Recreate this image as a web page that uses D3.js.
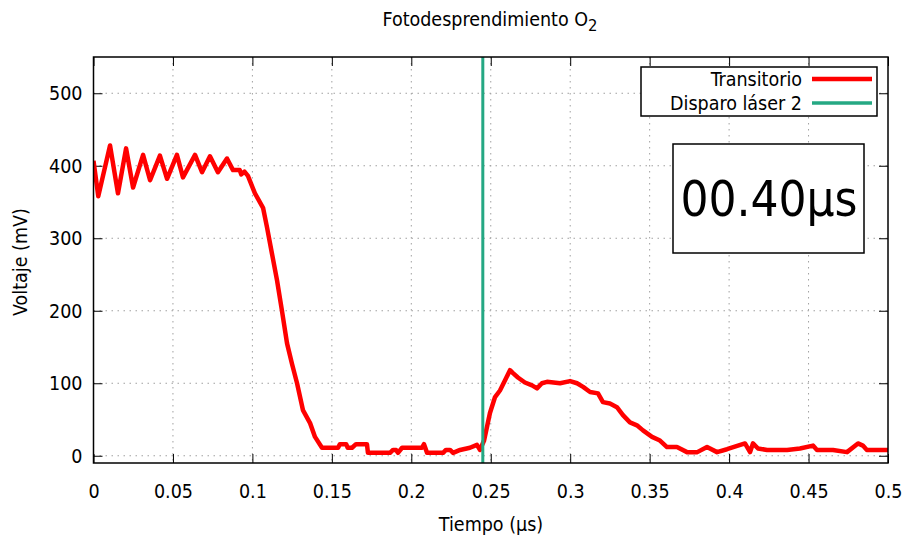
<!DOCTYPE html>
<html><head><meta charset="utf-8">
<script src="https://cdn.jsdelivr.net/npm/d3@7"></script>
<style>
body{margin:0;background:#fff;}
text{font-family:"DejaVu Sans Condensed","DejaVu Sans",sans-serif;font-stretch:condensed;fill:#000;}
</style></head>
<body><svg id="c" width="906" height="536"></svg>
<script>
// Data
const title = "Fotodesprendimiento O";
const titleSub = "2";
const xLabel = "Tiempo (µs)";
const yLabel = "Voltaje (mV)";
const xTicks = [0,0.05,0.1,0.15,0.2,0.25,0.3,0.35,0.4,0.45,0.5];
const xTickLabels = ["0","0.05","0.1","0.15","0.2","0.25","0.3","0.35","0.4","0.45","0.5"];
const yTicks = [0,100,200,300,400,500];
const seriesNames = ["Transitorio","Disparo láser 2"];
const timeLabel = "00.40µs";
const transT = [0,0.003,0.0104,0.0154,0.0205,0.0249,0.0312,0.0356,0.0418,0.0463,0.0525,0.0563,0.0639,0.0683,0.0733,0.0783,0.0840,0.0878,0.0920,0.0930,0.0950,0.0972,
  0.1016,0.1067,0.1092,0.1123,0.1155,0.1186,0.1218,0.1249,0.1281,0.1318,0.1363,0.1394,0.1438,
  0.1539,0.1551,0.1590,0.1600,0.1627,0.1652,0.1721,0.1727,0.1866,0.1885,0.1904,0.1916,0.1942,0.2067,0.2080,0.2099,0.2200,0.2218,0.2244,0.2263,0.2307,0.2369,0.2413,0.2432,
  0.2458,0.2495,0.2527,0.2558,0.2590,0.2621,0.2640,0.2671,0.2715,0.2760,0.2791,0.2822,0.2854,0.2936,0.2999,0.3043,0.3081,0.3125,0.3175,0.3206,0.3250,0.3294,0.3332,0.3376,0.3420,0.3458,0.3515,0.3565,0.3609,
  0.3672,0.3735,0.3800,0.3861,0.3924,0.3987,0.4100,0.4132,0.4150,0.4182,0.4239,0.4365,0.4446,0.4528,0.4553,0.4654,0.4742,0.4811,0.4842,0.4867,0.5];
const transV = [407,358,428,362,424,370,415,380,414,382,415,384,415,391,413,391,410,394,394,388,392,386,
  362,342,315,279,242,200,155,127,100,63,45,26,11,
  11,16,16,11,11,16,16,4,4,8,8,4,11,11,16,4,4,8,8,4,8,11,15,8,
  21,59,81,90,104,118,114,108,101,97,93,100,102,100,103,100,95,88,86,74,72,67,56,46,42,35,26,21,12,
  12,5,5,12,5,9,17,5,17,10,8,8,10,14,8,8,5,17,14,8,8];
const laserT = [0.245,0.245];
const laserV = [-10,550];

const W=906,H=536;
const L=93.5,R=888,T=57,B=463;
const FS=19.5;
const svg=d3.select("#c");
const x=d3.scaleLinear().domain([0,0.5]).range([L,R]);
const y=d3.scaleLinear().domain([-10,550]).range([B,T]);

// grid
const g=svg.append("g");
g.selectAll("line.gx").data(xTicks.slice(1,-1)).join("line")
 .attr("x1",d=>x(d)).attr("x2",d=>x(d)).attr("y1",T).attr("y2",B)
 .attr("stroke","#a0a0a0").attr("stroke-width",1).attr("stroke-dasharray","1.5,4.5");
g.selectAll("line.gy").data(yTicks).join("line")
 .attr("x1",L).attr("x2",R).attr("y1",d=>y(d)).attr("y2",d=>y(d))
 .attr("stroke","#a0a0a0").attr("stroke-width",1).attr("stroke-dasharray","1.5,4.5");

// axes with inward ticks
const tl=9;
svg.append("g").attr("transform",`translate(0,${B})`)
 .call(d3.axisBottom(x).tickValues(xTicks).tickFormat((d,i)=>xTickLabels[i]).tickSizeInner(-tl).tickSizeOuter(0).tickPadding(21))
 .call(a=>{a.select(".domain").remove();a.selectAll("text").attr("font-size",FS).attr("font-family",null);a.selectAll("line").attr("stroke","#000");});
svg.append("g").attr("transform",`translate(0,${T})`)
 .call(d3.axisTop(x).tickValues(xTicks).tickFormat("").tickSizeInner(-tl).tickSizeOuter(0))
 .call(a=>{a.select(".domain").remove();a.selectAll("line").attr("stroke","#000");});
svg.append("g").attr("transform",`translate(${L},0)`)
 .call(d3.axisLeft(y).tickValues(yTicks).tickSizeInner(-tl).tickSizeOuter(0).tickPadding(11))
 .call(a=>{a.select(".domain").remove();a.selectAll("text").attr("font-size",FS).attr("font-family",null);a.selectAll("line").attr("stroke","#000");});
svg.append("g").attr("transform",`translate(${R},0)`)
 .call(d3.axisRight(y).tickValues(yTicks).tickFormat("").tickSizeInner(-tl).tickSizeOuter(0))
 .call(a=>{a.select(".domain").remove();a.selectAll("line").attr("stroke","#000");});

// clip
svg.append("clipPath").attr("id","cp").append("rect").attr("x",L).attr("y",T).attr("width",R-L).attr("height",B-T);

const line=d3.line().x(d=>x(d[0])).y(d=>y(d[1]));
const transData=transT.map((t,i)=>[t,transV[i]]);
const laserData=laserT.map((t,i)=>[t,laserV[i]]);
const plot=svg.append("g").attr("clip-path","url(#cp)");
plot.append("path").datum(transData).attr("d",line).attr("fill","none").attr("stroke","#ff0000").attr("stroke-width",4.5).attr("stroke-linejoin","round");
plot.append("path").datum(laserData).attr("d",line).attr("fill","none").attr("stroke","#25a883").attr("stroke-width",3);

// frame
svg.append("rect").attr("x",L).attr("y",T).attr("width",R-L).attr("height",B-T).attr("fill","none").attr("stroke","#000").attr("stroke-width",1.5);

// legend
const lg=svg.append("g");
lg.append("rect").attr("x",641).attr("y",67).attr("width",236).attr("height",49).attr("fill","#fff").attr("stroke","#000").attr("stroke-width",1.5);
const colors=["#ff0000","#25a883"];
seriesNames.forEach((n,i)=>{
  const yy=79+i*24;
  lg.append("text").attr("x",802).attr("y",yy+7).attr("text-anchor","end").attr("font-size",FS).text(n);
  lg.append("line").attr("x1",812).attr("x2",872).attr("y1",yy).attr("y2",yy).attr("stroke",colors[i]).attr("stroke-width",i==0?4.5:3.5);
});

// time box
svg.append("rect").attr("x",673).attr("y",144).attr("width",191).attr("height",109).attr("fill","#fff").attr("stroke","#000").attr("stroke-width",1.5);
svg.append("text").attr("x",769).attr("y",216).attr("text-anchor","middle").attr("font-size",49).text(timeLabel);

// title
const tt=svg.append("text").attr("x",490).attr("y",26).attr("text-anchor","middle").attr("font-size",FS);
tt.append("tspan").text(title);
tt.append("tspan").attr("font-size",FS-3).attr("dy",5).text(titleSub);

// axis labels
svg.append("text").attr("x",491).attr("y",531).attr("text-anchor","middle").attr("font-size",FS).text(xLabel);
svg.append("text").attr("transform","translate(27,262) rotate(-90)").attr("text-anchor","middle").attr("font-size",FS).text(yLabel);
</script></body></html>
